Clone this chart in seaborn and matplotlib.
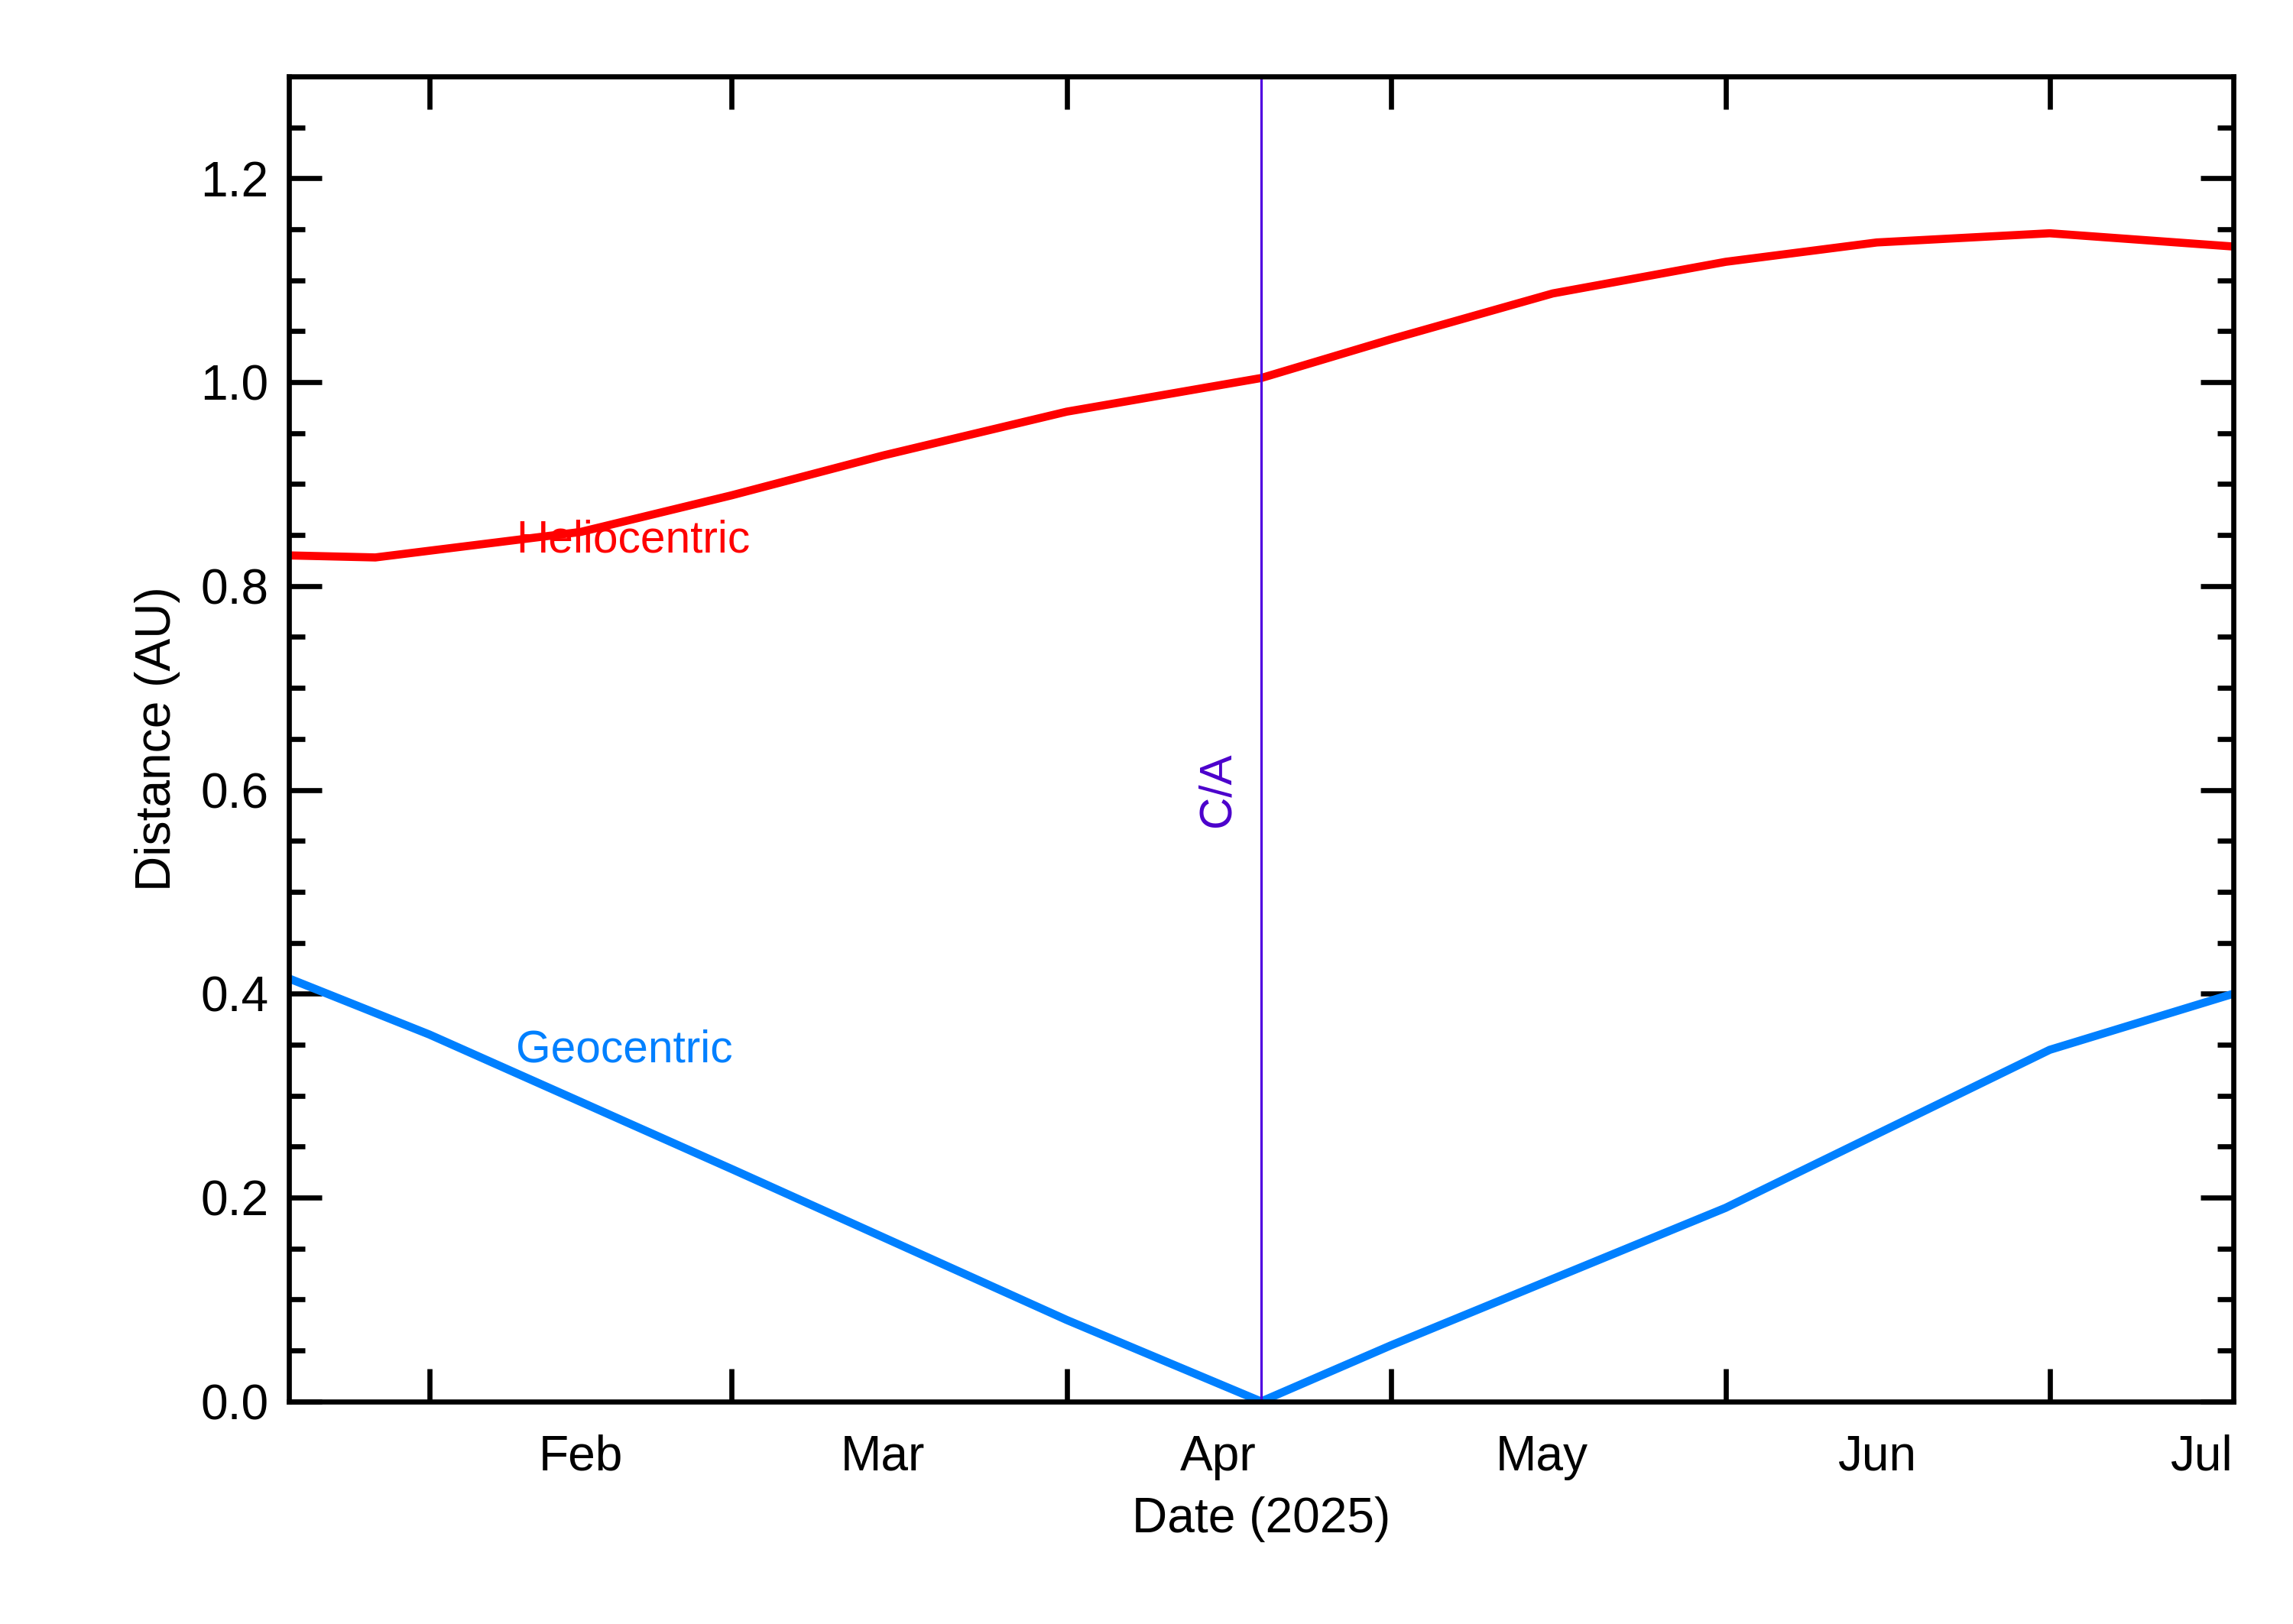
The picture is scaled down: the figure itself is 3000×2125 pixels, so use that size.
import pandas as pd
import numpy as np
import seaborn as sns
import matplotlib.pyplot as plt
import matplotlib.dates as mdates

helio_dates = ["2025-01-19", "2025-01-27", "2025-02-15", "2025-03-01", "2025-03-15", "2025-04-01",
               "2025-04-19", "2025-05-01", "2025-05-16", "2025-06-01", "2025-06-15", "2025-07-01", "2025-07-18"]
helio_au = [0.830, 0.828, 0.853, 0.889, 0.928, 0.971, 1.004, 1.042, 1.087, 1.118, 1.137, 1.146, 1.133]

geo_dates = ["2025-01-19", "2025-02-01", "2025-03-01", "2025-04-01", "2025-04-19",
             "2025-05-01", "2025-06-01", "2025-07-01", "2025-07-18"]
geo_au = [0.415, 0.360, 0.228, 0.080, 0.0, 0.055, 0.190, 0.345, 0.400]

ca_date = "2025-04-19"
month_labels = ["Feb", "Mar", "Apr", "May", "Jun", "Jul"]

helio = pd.DataFrame({"date": pd.to_datetime(helio_dates), "au": helio_au})
geo = pd.DataFrame({"date": pd.to_datetime(geo_dates), "au": geo_au})

plt.rcParams["font.family"] = "Liberation Sans"
fig = plt.figure(figsize=(15.625, 11.068), dpi=192)
ax = fig.add_axes([0.126, 0.137, 0.848, 0.816])

sns.lineplot(data=helio, x="date", y="au", color="#FF0000", linewidth=4, ax=ax)
sns.lineplot(data=geo, x="date", y="au", color="#0080FF", linewidth=4, ax=ax)
ax.axvline(pd.Timestamp(ca_date), color="#5000E0", linewidth=1.2)

ax.set_xlim(pd.Timestamp("2025-01-19"), pd.Timestamp("2025-07-18"))
ax.set_ylim(0, 1.3)

ax.xaxis.set_major_locator(mdates.MonthLocator())
ax.xaxis.set_major_formatter(plt.NullFormatter())
ax.xaxis.set_minor_locator(mdates.MonthLocator(bymonthday=15))
ax.xaxis.set_minor_formatter(mdates.DateFormatter("%b"))
ax.set_yticks(np.arange(0, 1.21, 0.2))
ax.set_yticks(np.arange(0, 1.3, 0.05), minor=True)
ax.yaxis.set_major_formatter(plt.FormatStrFormatter("%.1f"))

ax.tick_params(axis="both", which="major", direction="in", length=16, width=2.5,
               top=True, right=True, labelsize=24, pad=10)
ax.tick_params(axis="y", which="minor", direction="in", length=8, width=2.5, right=True)
ax.tick_params(axis="x", which="minor", length=0, labelsize=24, pad=16)
for s in ax.spines.values():
    s.set_linewidth(2.5)

ax.set_xlabel("Date (2025)", fontsize=24, labelpad=8)
ax.set_ylabel("Distance (AU)", fontsize=24, labelpad=10)

ax.text(pd.Timestamp("2025-02-09"), 0.845, "Heliocentric", color="#FF0000", fontsize=22, va="center")
ax.text(pd.Timestamp("2025-02-09"), 0.345, "Geocentric", color="#0080FF", fontsize=22, va="center")
ax.text(pd.Timestamp("2025-04-15"), 0.6, "C/A", color="#4B00CC", fontsize=22, rotation=90,
        ha="center", va="center")

fig.savefig("out.png")
